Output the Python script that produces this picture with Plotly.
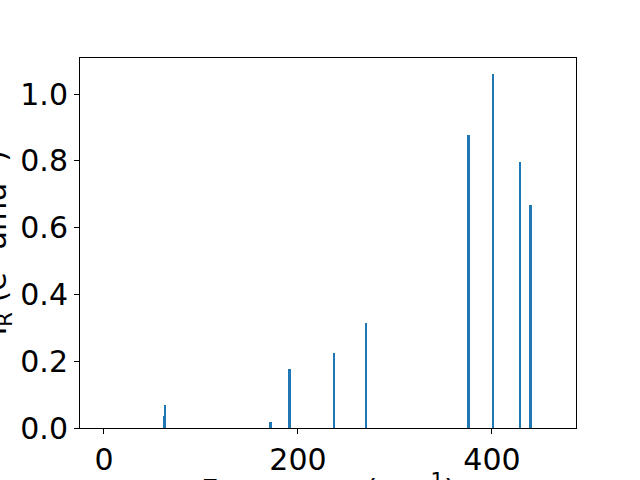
import plotly.graph_objects as go

freq = [62, 63.5, 172, 191.5, 237, 270, 376, 401, 429, 440]
intensity = [0.037, 0.068, 0.018, 0.177, 0.224, 0.315, 0.877, 1.060, 0.798, 0.667]
x_ticks = [0, 200, 400]
y_ticks = [0.0, 0.2, 0.4, 0.6, 0.8, 1.0]

fig = go.Figure(go.Bar(x=freq, y=intensity, width=1.8, marker=dict(color="#1f77b4", line=dict(width=0))))

font = dict(family="DejaVu Sans", size=30, color="black")
fig.update_layout(
    width=640, height=480,
    margin=dict(l=80, r=64, t=58, b=52, autoexpand=False),
    plot_bgcolor="white", paper_bgcolor="white",
    showlegend=False, bargap=0,
    font=font,
)
fig.update_xaxes(range=[-24.7, 486.6], tickvals=x_ticks, ticks="outside", ticklen=5, tickcolor="black",
                 showline=True, mirror=True, linecolor="black", linewidth=1, showgrid=False, zeroline=False,
                 tickfont=font, automargin=False)
fig.update_yaxes(range=[0, 1.108], tickvals=y_ticks, tickformat=".1f", ticks="outside", ticklen=5, tickcolor="black",
                 showline=True, mirror=True, linecolor="black", linewidth=1, showgrid=False, zeroline=False,
                 tickfont=font, automargin=False)
fig.add_annotation(text="Frequency (cm<sup>-1</sup>)", xref="paper", yref="paper", x=0.5, y=-(467 - 428) / 370,
                   xanchor="center", yanchor="top", showarrow=False, font=font)
fig.add_annotation(text="I<sub>R</sub> (e<sup>2</sup> amu<sup>-1</sup>)", xref="paper", yref="paper",
                   x=(19 - 80) / 496, y=0.5, xanchor="right", yanchor="middle", textangle=-90, showarrow=False, font=font)
fig.write_html("out.html", config={"displayModeBar": False},
               post_script="document.body.style.margin='0';document.body.style.overflow='hidden';")
